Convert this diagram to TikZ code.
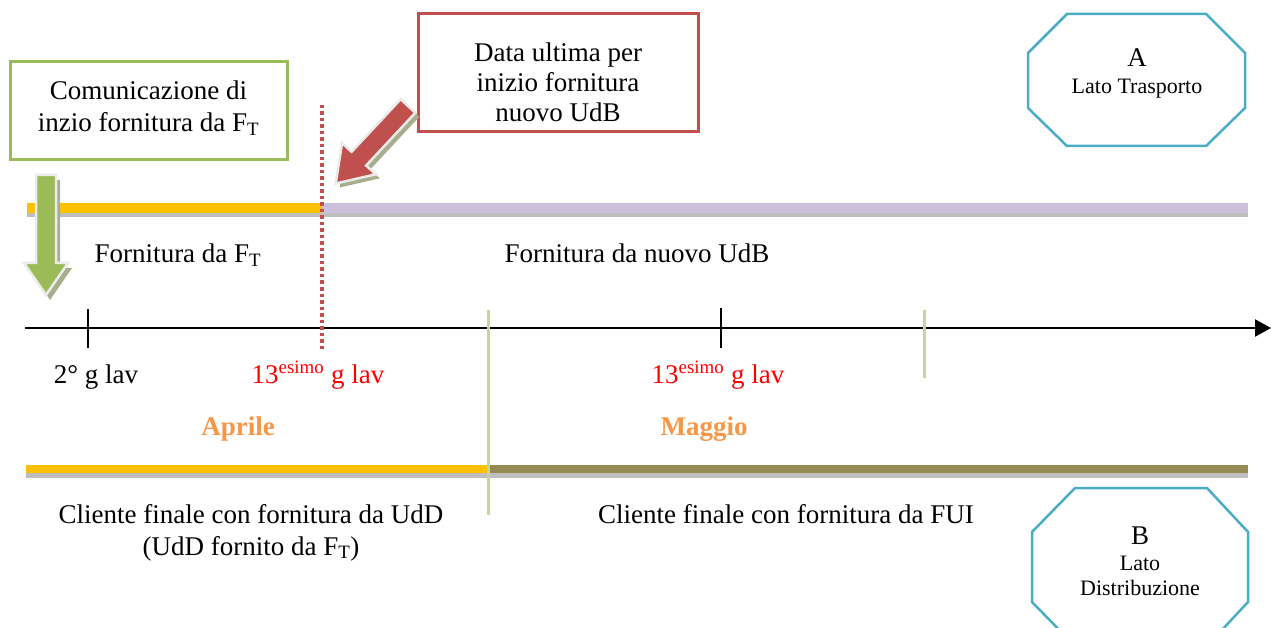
\documentclass[tikz,border=0pt]{standalone}
\usepackage{fontspec}
\setmainfont{Liberation Serif}
\usetikzlibrary{arrows.meta}
\definecolor{boxgreen}{HTML}{9BBB59}
\definecolor{boxred}{HTML}{C0504D}
\definecolor{octblue}{HTML}{4BACC6}
\definecolor{barorange}{HTML}{FFC000}
\definecolor{barlav}{HTML}{CCC0DA}
\definecolor{bargray}{HTML}{BFBFBF}
\definecolor{barolive}{HTML}{948A54}
\definecolor{tickgreen}{HTML}{C3D69B}
\definecolor{arrshadow}{HTML}{A7AE8B}
\definecolor{monthorange}{HTML}{F79646}
\begin{document}
\begin{tikzpicture}[x=1pt,y=-1pt,
  txt/.style={font=\fontsize{27}{32}\selectfont, inner sep=0pt, anchor=base, align=center},
  smalltxt/.style={font=\fontsize{22}{25}\selectfont, inner sep=0pt, anchor=base, align=center},
  redtxt/.style={txt, text=red},
  monthtxt/.style={txt, font=\fontsize{27}{32}\selectfont\bfseries, text=monthorange},
  infobox/.style={draw, line width=3pt, fill=white, inner sep=0pt, align=center},
  octline/.style={draw=octblue, line width=2.5pt, line join=miter},
  blackaxis/.style={line width=2.2pt, -{Triangle[length=16pt,width=17pt]}},
  blacktick/.style={line width=1.6pt},
  greentick/.style={tickgreen, line width=3pt},
  reddots/.style={boxred, line width=3.5pt, dash pattern=on 3.5pt off 3pt},
  blockarrow/.style={draw=white!92!black, line width=2.5pt, line join=miter}]
\useasboundingbox (0,0) rectangle (1271,628);
\clip (0,0) rectangle (1271,628);

% top bar
\fill[bargray] (27,207) rectangle (1248,217);
\fill[barorange] (27,203) rectangle (322,213);
\fill[barlav] (322,203) rectangle (1248,213);

% bottom bar
\fill[bargray] (26,469) rectangle (1248,478);
\fill[barorange] (26,465) rectangle (488,473);
\fill[barolive] (488,465) rectangle (1248,473);

% axis
\coordinate (axstart) at (25,328);
\coordinate (axend) at (1271,328);
\draw[blackaxis] (axstart) -- (axend);

% ticks
\coordinate (t1a) at (88,309); \coordinate (t1b) at (88,348);
\coordinate (t2a) at (721,308); \coordinate (t2b) at (721,348);
\draw[blacktick] (t1a) -- (t1b);
\draw[blacktick] (t2a) -- (t2b);
\coordinate (g1a) at (488,310); \coordinate (g1b) at (488,515);
\coordinate (g2a) at (924,310); \coordinate (g2b) at (924,378);
\draw[greentick] (g1a) -- (g1b);
\draw[greentick] (g2a) -- (g2b);
\coordinate (dA) at (322,105); \coordinate (dB) at (322,352);
\draw[reddots] (dA) -- (dB);

% boxes
\node[infobox, draw=boxgreen, minimum width=277pt, minimum height=98pt,
  font=\fontsize{27}{32}\selectfont] (commbox) at (148.5,111)
  {Comunicazione di\\inzio fornitura da F\textsubscript{T}\rule[-9pt]{0pt}{0pt}};
\node[infobox, draw=boxred, minimum width=280pt, minimum height=118pt,
  font=\fontsize{27}{30}\selectfont] (databox) at (558,73)
  {\rule{0pt}{37pt}Data ultima per\\inizio fornitura\\nuovo UdB};

% green block arrow (down)
\begin{scope}[shift={(4,5)}]
  \fill[arrshadow] (36,175) -- (56,175) -- (56,263) -- (68,263) -- (46,295) -- (24,263) -- (36,263) -- cycle;
\end{scope}
\filldraw[blockarrow, fill=boxgreen]
  (36,175) -- (56,175) -- (56,263) -- (68,263) -- (46,295) -- (24,263) -- (36,263) -- cycle;

% red block arrow (down-left)
\begin{scope}[shift={(412,110)}, rotate=227]
  \fill[arrshadow] (0,-10) -- (72,-10) -- (72,-23) -- (106,0) -- (72,23) -- (72,10) -- (0,10) -- cycle;
\end{scope}
\begin{scope}[shift={(408,106)}, rotate=227]
  \filldraw[blockarrow, fill=boxred]
    (0,-10) -- (72,-10) -- (72,-23) -- (106,0) -- (72,23) -- (72,10) -- (0,10) -- cycle;
\end{scope}

% octagons
\draw[octline] (1067,14) -- (1206,14) -- (1245,53) -- (1245,108) -- (1206,146) -- (1067,146) -- (1028,108) -- (1028,53) -- cycle;
\draw[octline] (1075,488) -- (1207,488) -- (1248,532) -- (1248,602) -- (1207,646) -- (1075,646) -- (1032,602) -- (1032,532) -- cycle;
\node[txt, font=\fontsize{27}{30}\selectfont] (octA) at (1137,67) {A};
\node[smalltxt] (octAsub) at (1137,94) {Lato Trasporto};
\node[txt, font=\fontsize{27}{30}\selectfont] (octB) at (1140,544) {B};
\node[smalltxt] (octBsub1) at (1140,570) {Lato};
\node[smalltxt] (octBsub2) at (1140,595) {Distribuzione};

% labels
\node[txt] (fornFT) at (178,263) {Fornitura da F\textsubscript{T}};
\node[txt] (fornUdB) at (637,263) {Fornitura da nuovo UdB};
\node[txt] (g2) at (96,383) {2° g lav};
\node[redtxt] (g13a) at (318,383) {13\textsuperscript{esimo} g lav};
\node[redtxt] (g13b) at (718,383) {13\textsuperscript{esimo} g lav};
\node[monthtxt] (aprile) at (238,435) {Aprile};
\node[monthtxt] (maggio) at (704,435) {Maggio};
\node[txt] (cliUdD) at (251,523) {Cliente finale con fornitura da UdD};
\node[txt] (cliUdD2) at (251,555) {(UdD fornito da F\textsubscript{T})};
\node[txt] (cliFUI) at (786,523) {Cliente finale con fornitura da FUI};
\end{tikzpicture}
\end{document}
